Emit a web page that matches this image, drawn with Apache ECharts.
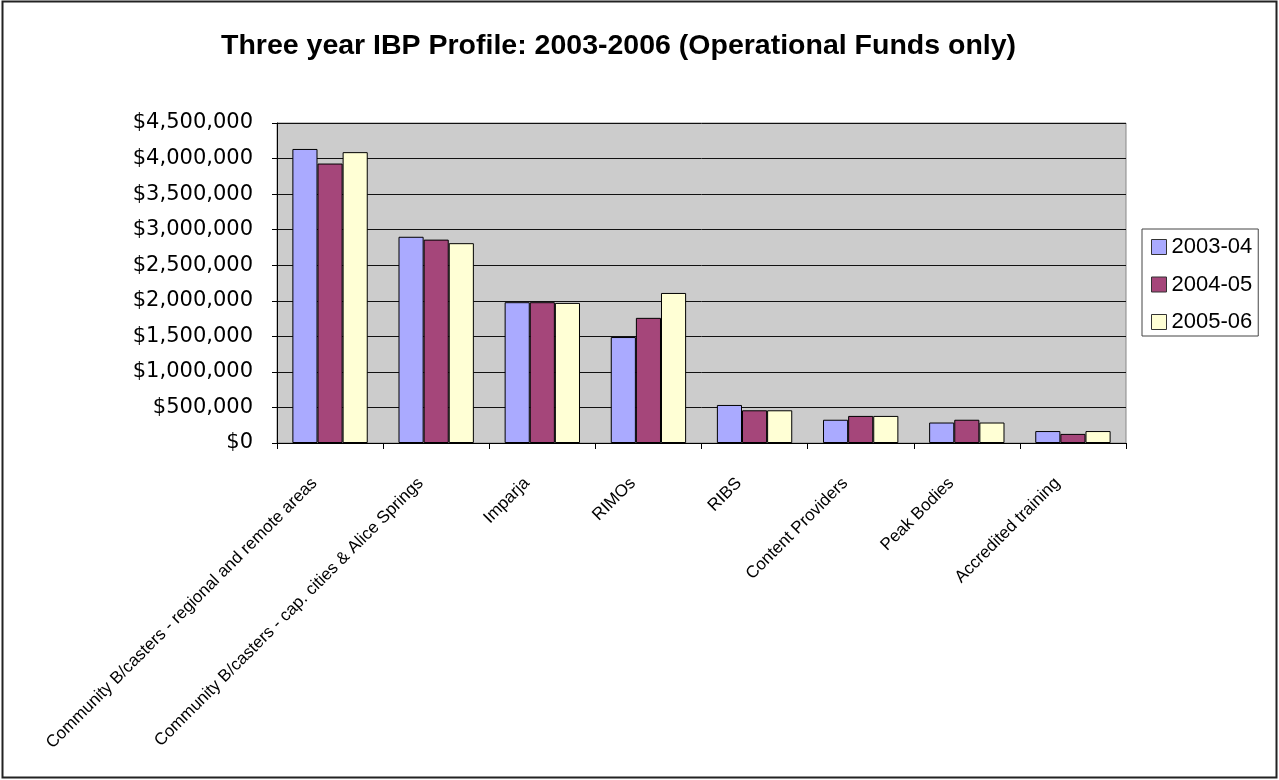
<!DOCTYPE html>
<html><head><meta charset="utf-8">
<script src="https://cdn.jsdelivr.net/npm/echarts@6/dist/echarts.min.js"></script>
<style>html,body{margin:0;padding:0;background:#fff}#c{width:1279px;height:780px}</style>
</head><body><div id="c"></div>
<script>
const categories = ["Community B/casters - regional and remote areas","Community B/casters - cap. cities & Alice Springs","Imparja","RIMOs","RIBS","Content Providers","Peak Bodies","Accredited training"];
const s2003 = [4135000, 2900000, 1980000, 1490000, 535000, 327000, 288000, 168000];
const s2004 = [3930000, 2860000, 1980000, 1760000, 460000, 381000, 327000, 128000];
const s2005 = [4090000, 2810000, 1970000, 2110000, 460000, 381000, 288000, 168000];
const seriesNames = ["2003-04","2004-05","2005-06"];
const colors = ["#AAAAFF","#A5467A","#FFFFD5"];

const chart = echarts.init(document.getElementById('c'));
const F = 'Liberation Sans, Arial, sans-serif';
const data = [s2003, s2004, s2005];
chart.setOption({
  animation:false,
  graphic:[{type:'rect',shape:{x:2.5,y:1.5,width:1274,height:776},style:{fill:'none',stroke:'#222',lineWidth:2},z:-1}],
  title:{text:'Three year IBP Profile: 2003-2006 (Operational Funds only)',left:216,top:27,textStyle:{fontFamily:F,fontSize:28.5,fontWeight:'bold',color:'#000'}},
  legend:{orient:'vertical',left:1142,top:229,itemWidth:15,itemHeight:15,itemGap:15.5,padding:[7,6,3,9],borderColor:'#444',borderWidth:1,
    textStyle:{fontFamily:F,fontSize:22,color:'#000'},data:seriesNames.map((n,i)=>({name:n,icon:'rect',itemStyle:{borderColor:'#333',borderWidth:1}}))},
  grid:{left:277,right:153,top:123,bottom:337,backgroundColor:'#CCCCCC',show:true,borderColor:'#888',borderWidth:1},
  xAxis:{type:'category',data:categories,axisLine:{lineStyle:{color:'#000'}},axisTick:{show:true,alignWithLabel:false,length:6,lineStyle:{color:'#000'}},
    axisLabel:{interval:0,rotate:45,fontFamily:F,fontSize:17,color:'#000',margin:22,padding:[0,22,0,0]}},
  yAxis:{type:'value',min:0,max:4500000,interval:500000,
    axisLine:{show:true,lineStyle:{color:'#000'}},axisTick:{show:true,length:5,lineStyle:{color:'#000'}},
    splitLine:{lineStyle:{color:'#111',width:1}},
    axisLabel:{fontFamily:'DejaVu Sans, sans-serif',fontSize:21,color:'#000',margin:24,formatter:v=>'$'+v.toLocaleString('en-US')}},
  series:seriesNames.map((n,i)=>({name:n,type:'bar',data:data[i],barGap:'0%',barCategoryGap:'29%',
    itemStyle:{color:colors[i],borderColor:'#000',borderWidth:1}}))
});
</script></body></html>
